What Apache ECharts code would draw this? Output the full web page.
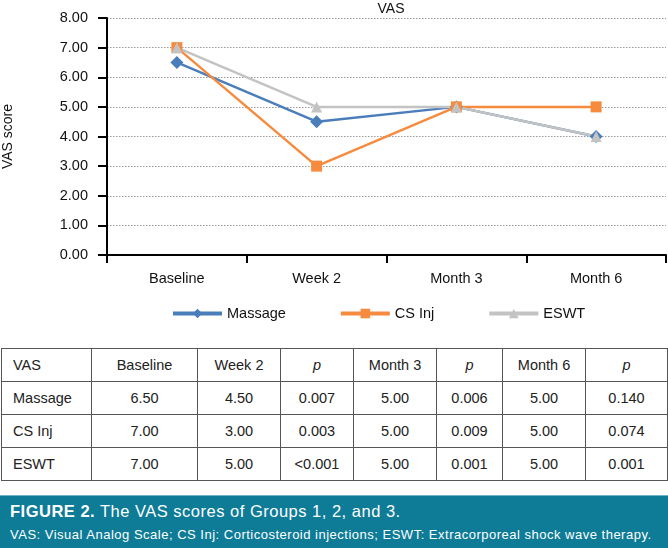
<!DOCTYPE html>
<html>
<head>
<meta charset="utf-8">
<script src="https://cdn.jsdelivr.net/npm/echarts@6/dist/echarts.min.js"></script>
<style>
  body { margin: 0; width: 668px; height: 548px; position: relative; background: #fff; overflow: hidden;
         font-family: "Liberation Sans", Arial, sans-serif; }
  #chart { position: absolute; left: 0; top: 0; width: 668px; height: 340px; }
  #tbl { position: absolute; left: 1px; top: 348px; border-collapse: collapse; table-layout: fixed; color: #222; font-size: 14.5px; }
  #tbl td { border: 1px solid #555; height: 32px; padding: 0; text-align: center; }
  #tbl td:first-child { text-align: left; padding-left: 11px; }
  #tbl td.p { font-style: italic; }
  #cap { position: absolute; left: 0; top: 495px; width: 668px; height: 53px; background: #0e7b97; color: #fff;
         border-top: 1px solid #6fb2c6; box-sizing: border-box; }
  #cap .t1 { position: absolute; left: 10px; top: 6px; font-size: 16.5px; letter-spacing: 0.5px; white-space: nowrap; }
  #cap .t2 { position: absolute; left: 10px; top: 31px; font-size: 13px; letter-spacing: 0.5px; white-space: nowrap; }
</style>
</head>
<body>
<div id="chart"></div>
<table id="tbl"></table>
<div id="cap">
  <div class="t1"><b>FIGURE 2.</b> The VAS scores of Groups 1, 2, and 3.</div>
  <div class="t2">VAS: Visual Analog Scale; CS Inj: Corticosteroid injections; ESWT: Extracorporeal shock wave therapy.</div>
</div>
<script>
const categories = ["Baseline", "Week 2", "Month 3", "Month 6"];
const massage = [6.5, 4.5, 5.0, 4.0];
const csInj = [7.0, 3.0, 5.0, 5.0];
const eswt = [7.0, 5.0, 5.0, 4.0];

const tableHeader = ["VAS", "Baseline", "Week 2", "p", "Month 3", "p", "Month 6", "p"];
const tableRows = [
  ["Massage", "6.50", "4.50", "0.007", "5.00", "0.006", "5.00", "0.140"],
  ["CS Inj", "7.00", "3.00", "0.003", "5.00", "0.009", "5.00", "0.074"],
  ["ESWT", "7.00", "5.00", "<0.001", "5.00", "0.001", "5.00", "0.001"]
];
const colWidths = [90, 106, 83, 73, 83, 66, 83, 82];

// table
const tbl = document.getElementById("tbl");
const cg = document.createElement("colgroup");
colWidths.forEach(w => { const c = document.createElement("col"); c.style.width = w + "px"; cg.appendChild(c); });
tbl.appendChild(cg);
[tableHeader, ...tableRows].forEach((row, ri) => {
  const tr = document.createElement("tr");
  row.forEach(v => {
    const td = document.createElement("td");
    td.textContent = v;
    if (ri === 0 && v === "p") td.className = "p";
    tr.appendChild(td);
  });
  tbl.appendChild(tr);
});

const font = "Liberation Sans";
const chart = echarts.init(document.getElementById("chart"));
chart.setOption({
  animation: false,
  title: {
    text: "VAS", left: 386, top: -3, textAlign: "center",
    textStyle: { fontFamily: font, fontSize: 14, fontWeight: "normal", color: "#111" }
  },
  legend: {
    bottom: 14, left: 166, itemWidth: 49, itemHeight: 12, itemGap: 53,
    lineStyle: { width: 4 },
    textStyle: { fontFamily: font, fontSize: 14.5, color: "#111" },
    data: ["Massage", "CS Inj", "ESWT"]
  },
  grid: { left: 107, right: 2, top: 18, bottom: 85, containLabel: false, outerBoundsMode: "none" },
  xAxis: {
    type: "category", data: categories, boundaryGap: true,
    axisLine: { lineStyle: { color: "#000", width: 2 } },
    axisTick: { show: true, length: 8, lineStyle: { color: "#000", width: 2 } },
    axisLabel: { fontFamily: font, fontSize: 14.5, color: "#111", margin: 16 }
  },
  yAxis: {
    type: "value", min: 0, max: 8, interval: 1,
    name: "VAS score", nameLocation: "middle", nameGap: 92, nameRotate: 90,
    nameTextStyle: { fontFamily: font, fontSize: 14, color: "#111" },
    axisLine: { show: true, lineStyle: { color: "#000", width: 2 } },
    axisTick: { show: true, length: 9, lineStyle: { color: "#000", width: 2 } },
    axisLabel: { fontFamily: font, fontSize: 14.5, color: "#111", margin: 19, formatter: v => v.toFixed(2) },
    splitLine: { lineStyle: { color: "#999", type: [1.5, 1.5], width: 1 } }
  },
  series: [
    { name: "Massage", type: "line", data: massage, symbol: "diamond", symbolSize: 13,
      lineStyle: { color: "#4a7ebb", width: 2.5 }, itemStyle: { color: "#4a7ebb" } },
    { name: "CS Inj", type: "line", data: csInj, symbol: "rect", symbolSize: 11,
      lineStyle: { color: "#f68b3f", width: 2.5 }, itemStyle: { color: "#f68b3f" } },
    { name: "ESWT", type: "line", data: eswt, symbol: "triangle", symbolSize: 11,
      lineStyle: { color: "#c3c3c3", width: 2.5 }, itemStyle: { color: "#c3c3c3" } }
  ]
});
</script>
</body>
</html>
